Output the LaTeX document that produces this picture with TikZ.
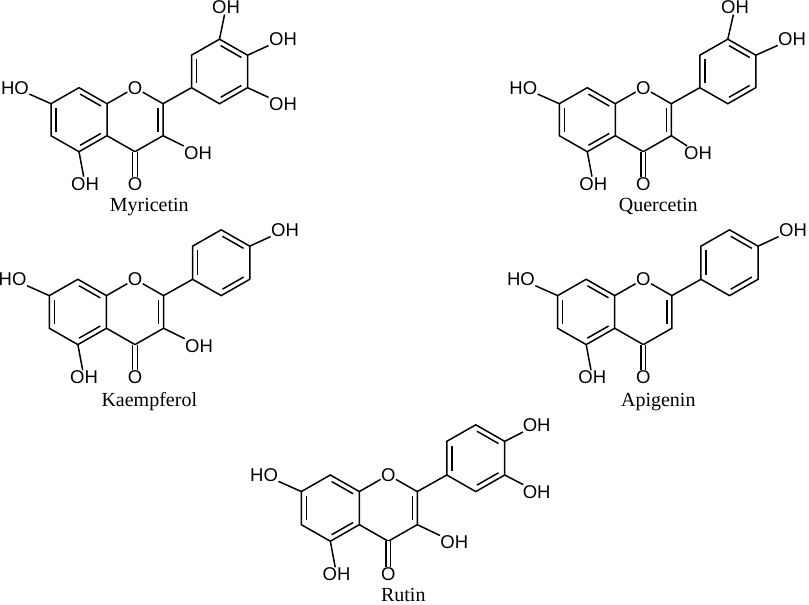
\documentclass[tikz,border=0pt]{standalone}
\usepackage{fontspec}
\setmainfont{Liberation Serif}
\newfontfamily\atomfont{Liberation Sans}
\usetikzlibrary{calc}
\begin{document}
\begin{tikzpicture}[x=1pt,y=-1pt,bond/.style={line width=1.5pt},carbonyl/.style={double,double distance=3.4pt,line width=1.3pt},atom/.style={inner sep=0.3pt,font=\atomfont\fontsize{18.5}{20}\selectfont},molname/.style={inner sep=0pt,font=\fontsize{20}{22}\selectfont}]
\useasboundingbox (0,0) rectangle (809,605);

% inner line of a double bond, on the right of a->b
\def\dbl#1#2{\draw[bond] ($(#1)!0.13!(#2)!5pt!-90:(#2)$) -- ($(#2)!0.13!(#1)!5pt!90:(#1)$);}

% #1 prefix, #2 #3 position of the ring oxygen, #4 scale
\def\flavone#1#2#3#4{
\begin{scope}[shift={(#2,#3)},x=#4pt,y=-#4pt]
\node[atom] (#1O) at (0,0) {O};
\coordinate (#1C2) at (28,16);
\coordinate (#1C3) at (28,48);
\coordinate (#1C4) at (0,64);
\coordinate (#1C4a) at (-28,48);
\coordinate (#1C5) at (-56,64);
\coordinate (#1C6) at (-84,48);
\coordinate (#1C7) at (-84,16);
\coordinate (#1C8) at (-56,0);
\coordinate (#1C8a) at (-28,16);
\coordinate (#1Ca) at (56.5,0);
\coordinate (#1Cb) at (56.5,-32.5);
\coordinate (#1Cc) at (84.5,-48.5);
\coordinate (#1Cd) at (112.5,-32.5);
\coordinate (#1Ce) at (112.5,0);
\coordinate (#1Cf) at (84.5,16);
\node[atom] (#1Ok) at (0,96) {O};
\node[atom] (#1HO) at (-120,0) {HO};
\node[atom] (#1OH) at (-50,96) {OH};
\end{scope}
\draw[bond] (#1C7) -- (#1C8) -- (#1C8a) -- (#1C4a) -- (#1C5) -- (#1C6) -- cycle;
\draw[bond] (#1C8a) -- (#1O) -- (#1C2) -- (#1C3) -- (#1C4) -- (#1C4a);
\draw[bond] (#1Ca) -- (#1Cb) -- (#1Cc) -- (#1Cd) -- (#1Ce) -- (#1Cf) -- cycle;
\draw[bond] (#1C2) -- (#1Ca);
\draw[bond] (#1C7) -- (#1HO);
\draw[bond] (#1C5) -- (#1OH);
\draw[carbonyl] (#1C4) -- (#1Ok);
\dbl{#1C8}{#1C8a}
\dbl{#1C4a}{#1C5}
\dbl{#1C6}{#1C7}
\dbl{#1C2}{#1C3}
\dbl{#1Ca}{#1Cb}
\dbl{#1Cc}{#1Cd}
\dbl{#1Ce}{#1Cf}
}

% Myricetin
\flavone{m}{135}{87.7}{1}
\node[atom] (mOHa) at (198,153) {OH};
\draw[bond] (mC3) -- (mOHa);
\node[atom] (mOHb) at (226,7.5) {OH};
\draw[bond] (mCc) -- (mOHb);
\node[atom] (mOHc) at (283,39) {OH};
\draw[bond] (mCd) -- (mOHc);
\node[atom] (mOHd) at (283,104) {OH};
\draw[bond] (mCe) -- (mOHd);
\node[molname] (mName) at (149.3,206.7) {Myricetin};

% Quercetin
\flavone{q}{643.3}{87.7}{1}
\node[atom] (qOHa) at (698,153) {OH};
\draw[bond] (qC3) -- (qOHa);
\node[atom] (qOHb) at (735,7.5) {OH};
\draw[bond] (qCc) -- (qOHb);
\node[atom] (qOHc) at (792,39) {OH};
\draw[bond] (qCd) -- (qOHc);
\node[molname] (qName) at (658.3,206.7) {Quercetin};

% Kaempferol
\flavone{k}{135}{279.3}{1.02}
\node[atom] (kOHa) at (199,345.7) {OH};
\draw[bond] (kC3) -- (kOHa);
\node[atom] (kOHb) at (285,230) {OH};
\draw[bond] (kCd) -- (kOHb);
\node[molname] (kName) at (149.3,401.7) {Kaempferol};

% Apigenin
\flavone{a}{643.3}{279.3}{1.02}
\node[atom] (aOHb) at (793,230) {OH};
\draw[bond] (aCd) -- (aOHb);
\node[molname] (aName) at (658.3,401.7) {Apigenin};

% Rutin
\flavone{r}{388.3}{475}{1.035}
\node[atom] (rOHa) at (454.3,542.3) {OH};
\draw[bond] (rC3) -- (rOHa);
\node[atom] (rOHb) at (536.7,425) {OH};
\draw[bond] (rCd) -- (rOHb);
\node[atom] (rOHc) at (536.7,491.7) {OH};
\draw[bond] (rCe) -- (rOHc);
\node[molname] (rName) at (403.3,594.5) {Rutin};
\end{tikzpicture}
\end{document}
